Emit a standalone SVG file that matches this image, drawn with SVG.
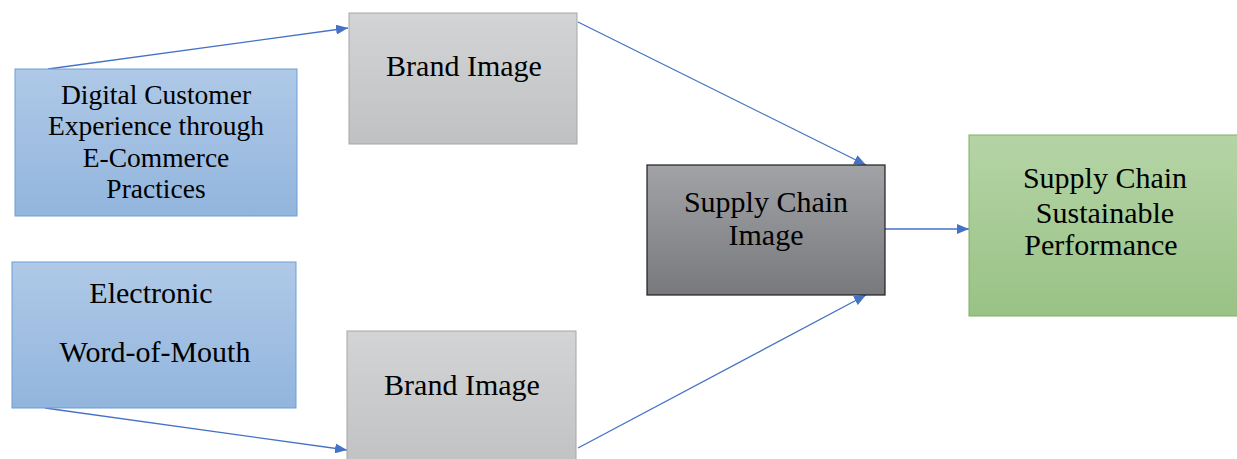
<svg xmlns="http://www.w3.org/2000/svg" width="1237" height="459" viewBox="0 0 1237 459">
  <defs>
    <linearGradient id="gBlue" x1="0" y1="0" x2="0" y2="1">
      <stop offset="0" stop-color="#afc9e7"/>
      <stop offset="1" stop-color="#92b5dd"/>
    </linearGradient>
    <linearGradient id="gGray" x1="0" y1="0" x2="0" y2="1">
      <stop offset="0" stop-color="#d3d4d6"/>
      <stop offset="1" stop-color="#c0c1c3"/>
    </linearGradient>
    <linearGradient id="gDark" x1="0" y1="0" x2="0" y2="1">
      <stop offset="0" stop-color="#a2a3a6"/>
      <stop offset="1" stop-color="#78797d"/>
    </linearGradient>
    <linearGradient id="gGreen" x1="0" y1="0" x2="0" y2="1">
      <stop offset="0" stop-color="#b5d4a6"/>
      <stop offset="1" stop-color="#99c285"/>
    </linearGradient>
    <marker id="arrow" viewBox="0 0 12 10" refX="12" refY="5" markerWidth="12" markerHeight="10" markerUnits="userSpaceOnUse" orient="auto">
      <path d="M0,0 L12,5 L0,10 Z" fill="#4472c4"/>
    </marker>
  </defs>
  <style>
    .edge { stroke: #4472c4; stroke-width: 1.3; fill: none; marker-end: url(#arrow); }
  </style>

  <g id="connectors">
    <line class="edge" x1="48" y1="69" x2="348" y2="28"/>
    <line class="edge" x1="45" y1="408" x2="347" y2="450"/>
    <line class="edge" x1="578" y1="22" x2="866" y2="165"/>
    <line class="edge" x1="578" y1="448" x2="866" y2="295"/>
    <line class="edge" x1="885" y1="229" x2="969" y2="229"/>
  </g>

  <g id="digital-cx">
    <rect x="15" y="69" width="282" height="147" fill="url(#gBlue)" stroke="#6d9dd6" stroke-width="1"/>
    <text x="156" y="104" font-family="Times New Roman" font-size="27.5" text-anchor="middle">Digital Customer</text>
    <text x="156" y="135" font-family="Times New Roman" font-size="27.5" text-anchor="middle">Experience through</text>
    <text x="156" y="167" font-family="Times New Roman" font-size="27.5" text-anchor="middle">E-Commerce</text>
    <text x="156" y="198" font-family="Times New Roman" font-size="27.5" text-anchor="middle">Practices</text>
  </g>

  <g id="ewom">
    <rect x="12" y="262" width="284" height="146" fill="url(#gBlue)" stroke="#6d9dd6" stroke-width="1"/>
    <text x="151" y="303" font-family="Times New Roman" font-size="30" text-anchor="middle">Electronic</text>
    <text x="155" y="362" font-family="Times New Roman" font-size="30" text-anchor="middle">Word-of-Mouth</text>
  </g>

  <g id="brand-image-top">
    <rect x="349" y="13" width="228" height="131" fill="url(#gGray)" stroke="#a6a6a6" stroke-width="1"/>
    <text x="464" y="76" font-family="Times New Roman" font-size="30" text-anchor="middle">Brand Image</text>
  </g>

  <g id="brand-image-bottom">
    <rect x="347" y="331" width="229" height="140" fill="url(#gGray)" stroke="#a6a6a6" stroke-width="1"/>
    <text x="462" y="395" font-family="Times New Roman" font-size="30" text-anchor="middle">Brand Image</text>
  </g>

  <g id="sc-image">
    <rect x="647" y="165" width="238" height="130" fill="url(#gDark)" stroke="#1e1e1e" stroke-width="1.2"/>
    <text x="766" y="212" font-family="Times New Roman" font-size="30" text-anchor="middle">Supply Chain</text>
    <text x="766" y="245" font-family="Times New Roman" font-size="30" text-anchor="middle">Image</text>
  </g>

  <g id="sc-performance">
    <rect x="969" y="135" width="272" height="181" fill="url(#gGreen)" stroke="#7fb063" stroke-width="1"/>
    <text x="1105" y="188" font-family="Times New Roman" font-size="30" text-anchor="middle">Supply Chain</text>
    <text x="1105" y="223" font-family="Times New Roman" font-size="30" text-anchor="middle">Sustainable</text>
    <text x="1101" y="255" font-family="Times New Roman" font-size="30" text-anchor="middle">Performance</text>
  </g>
</svg>
